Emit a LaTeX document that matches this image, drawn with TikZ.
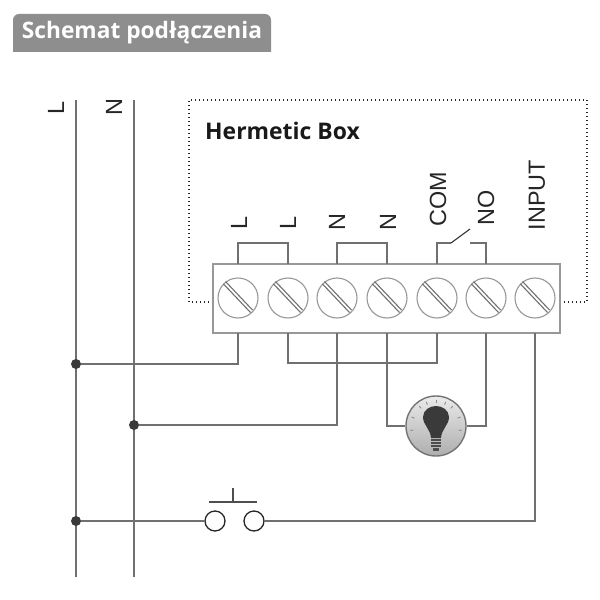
\documentclass[tikz,border=0pt]{standalone}
\usepackage{fontspec}
\setmainfont{Liberation Sans}
\newfontfamily\titlefont{Open Sans}
\usetikzlibrary{calc}
\definecolor{wire}{HTML}{707070}
\definecolor{edge}{HTML}{989898}
\definecolor{tabgray}{HTML}{8E8E8E}
\definecolor{bulb}{HTML}{3A3A3A}
\tikzset{
  wireline/.style={draw=wire,line width=1.5bp},
  junction/.style={circle,fill=bulb,draw=none,minimum size=10bp,inner sep=0pt},
  screwnode/.style={circle,draw=edge,line width=1.1bp,fill=white,minimum size=40bp,inner sep=0pt},
  pushnode/.style={circle,draw=black!85,line width=1.3bp,fill=white,minimum size=20bp,inner sep=0pt},
  vlabel/.style={rotate=90,font=\fontsize{23.5}{25}\selectfont,text=black!85,inner sep=0pt},
}
\begin{document}
\begin{tikzpicture}[x=1bp,y=-1bp]
\useasboundingbox (0,0) rectangle (600,600);
% title
\fill[tabgray] (13,52) -- (13,20) arc[start angle=180,end angle=270,x radius=6bp,y radius=-6bp] -- (265,14) arc[start angle=270,end angle=360,x radius=6bp,y radius=-6bp] -- (271,52) -- cycle;
\node[text=white,font=\titlefont\bfseries\fontsize{22.8}{24}\selectfont,inner sep=0pt] (title) at (142,33) {Schemat podłączenia};
% hermetic box
\coordinate (hbl) at (213,302);
\coordinate (hbr) at (560,302);
\draw[black!85,line width=1.2bp,dash pattern=on 1.4bp off 2.6bp] (hbl) -- (189,302) -- (189,100) -- (587,100) -- (587,302) -- (hbr);
\node[anchor=west,font=\titlefont\bfseries\fontsize{23}{24}\selectfont,text=black!90,inner sep=0pt] (hb) at (205,131) {Hermetic Box};
% mains
\coordinate (Ltop) at (76,100); \coordinate (Lbot) at (76,577);
\coordinate (Ntop) at (134,100); \coordinate (Nbot) at (134,577);
\draw[wireline] (Ltop) -- (Lbot);
\draw[wireline] (Ntop) -- (Nbot);
\node[vlabel] (lblL) at (56,108) {L};
\node[vlabel] (lblN) at (114,107) {N};
% terminal block
\node[draw=edge,line width=1.2bp,fill=white,minimum width=347bp,minimum height=69bp,inner sep=0pt] (block) at (386.5,298.5) {};
\foreach \i/\x in {1/238,2/288,3/337,4/387,5/437,6/486,7/535}{
  \node[screwnode] (s\i) at (\x,298) {};
  \draw[wire,line width=1.1bp] (\x-14.5,298-14) -- (\x+12.5,298+14.5);
  \draw[wire,line width=1.1bp] (\x-12.5,298-16.5) -- (\x+14.5,298+12);
  \coordinate (t\i) at (\x,264);
  \coordinate (b\i) at (\x,333);
}
% bridges
\draw[wireline] (t1) -- ++(0,-21) -| (t2);
\draw[wireline] (t3) -- ++(0,-21) -| (t4);
\coordinate (c1) at (451,243); \coordinate (c2) at (470,229); \coordinate (c3) at (470,243);
\draw[wireline] (t5) |- (c1);
\draw[black!80,line width=1.1bp] (c1) -- (c2);
\draw[wireline] (c3) -| (t6);
% terminal labels
\node[vlabel] (l1) at (239,223) {L};
\node[vlabel] (l2) at (288,223) {L};
\node[vlabel] (l3) at (337,222) {N};
\node[vlabel] (l4) at (388,222) {N};
\node[vlabel] (l5) at (438,199) {COM};
\node[vlabel] (l6) at (486,208) {NO};
\node[vlabel] (l7) at (537,195) {INPUT};
% junctions
\node[junction] (jL) at (76,364) {};
\node[junction] (jN) at (134,425) {};
\node[junction] (jP) at (76,521) {};
% wiring
\draw[wireline] (b1) |- (jL);
\draw[wireline] (b2) -- (288,363) -| (b5);
\draw[wireline] (b3) |- (jN);
% lamp
\node[circle,minimum size=60bp,inner sep=0pt,draw=black!55,line width=1.4bp,top color=black!8,bottom color=black!32] (lamp) at (436,426) {};
\draw[wireline] (b4) |- (lamp.west);
\draw[wireline] (b6) |- (lamp.east);
\begin{scope}[shift={(436,426)}]
  \fill[bulb] (-5,12) .. controls (-5.5,3) and (-13,-1) .. (-13,-9) .. controls (-13,-16) and (-6,-20) .. (0,-20) .. controls (6,-20) and (13,-16) .. (13,-9) .. controls (13,-1) and (5.5,3) .. (5,12) -- cycle;
  \foreach \yy in {14,17,20} \draw[black!70,line width=1.5bp] (-5,\yy) -- (5,\yy);
  \fill[black!70] (-3,22) rectangle (3,25);
  \foreach \a in {-160,-130,-112,-90,-68,-50,-20,10,170}{
    \draw[black!45,line width=0.9bp] ({23*cos(\a)},{23*sin(\a)}) -- ({26*cos(\a)},{26*sin(\a)});
  }
\end{scope}
% push button
\node[pushnode] (p1) at (215,521) {};
\node[pushnode] (p2) at (254,521) {};
\draw[wireline] (jP) -- (p1);
\draw[wireline] (p2) -- (535,521) -- (b7);
\coordinate (barL) at (209,502); \coordinate (barR) at (257,502); \coordinate (stem) at (233,488);
\draw[wire!70!black,line width=1.5bp] (barL) -- (barR);
\draw[wire!70!black,line width=1.5bp] (stem) -- (233,502);
\end{tikzpicture}
\end{document}
